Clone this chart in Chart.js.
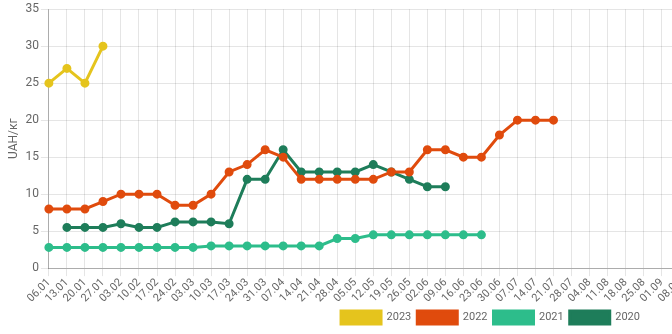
<!DOCTYPE html>
<html>
<head>
<meta charset="utf-8">
<script src="https://cdn.jsdelivr.net/npm/chart.js@4"></script>
<style>
    html, body { margin: 0; padding: 0; background: #ffffff; overflow: hidden; }
    #wrap { position: relative; width: 976px; height: 334px; }
</style>
</head>
<body>
<div id="wrap"><canvas id="priceChart"></canvas></div>
<script>
// Weekly labels (the source chart is wider than the visible window)
const weeks = [
    '06.01', '13.01', '20.01', '27.01', '03.02', '10.02', '17.02', '24.02',
    '03.03', '10.03', '17.03', '24.03', '31.03', '07.04', '14.04', '21.04',
    '28.04', '05.05', '12.05', '19.05', '26.05', '02.06', '09.06', '16.06',
    '23.06', '30.06', '07.07', '14.07', '21.07', '28.07', '04.08', '11.08',
    '18.08', '25.08', '01.09', '08.09', '15.09', '22.09', '29.09', '06.10',
    '13.10', '20.10', '27.10', '03.11', '10.11', '17.11', '24.11', '01.12',
    '08.12', '15.12', '22.12', '29.12'
];

const years = ['2023', '2022', '2021', '2020'];

const prices2023 = [25, 27, 25, 30];
const prices2022 = [8, 8, 8, 9, 10, 10, 10, 8.5, 8.5, 10, 13, 14, 16, 15, 12, 12,
    12, 12, 12, 13, 13, 16, 16, 15, 15, 18, 20, 20, 20];
const prices2021 = [2.8, 2.8, 2.8, 2.8, 2.8, 2.8, 2.8, 2.8, 2.8, 3, 3, 3, 3, 3, 3, 3,
    4, 4, 4.5, 4.5, 4.5, 4.5, 4.5, 4.5, 4.5];
const prices2020 = [null, 5.5, 5.5, 5.5, 6, 5.5, 5.5, 6.25, 6.25, 6.25, 6, 12, 12, 16, 13, 13,
    13, 13, 14, 13, 12, 11, 11];

const yTicks = [0, 5, 10, 15, 20, 25, 30, 35];

const colors = ['#e5c41d', '#e04b0d', '#2dbd8b', '#1e7d5a'];
const series = [prices2023, prices2022, prices2021, prices2020];

const fontFamily = 'Roboto, "Noto Sans", sans-serif';

const ctx = document.getElementById('priceChart');
new Chart(ctx, {
    type: 'line',
    data: {
        labels: weeks,
        datasets: series.map((values, i) => ({
            label: years[i],
            data: values,
            borderColor: colors[i],
            backgroundColor: colors[i],
            borderWidth: 3,
            pointRadius: 3,
            pointHoverRadius: 4,
            pointBackgroundColor: colors[i],
            pointBorderColor: colors[i],
            tension: 0,
            fill: false,
            spanGaps: false
        }))
    },
    options: {
        responsive: true,
        maintainAspectRatio: false,
        animation: false,
        layout: { padding: { top: 2, right: 0, bottom: 0, left: 5 } },
        plugins: {
            legend: {
                position: 'bottom',
                labels: {
                    boxWidth: 40,
                    boxHeight: 13,
                    padding: 6,
                    color: '#666666',
                    font: { family: fontFamily, size: 11 }
                }
            },
            tooltip: { enabled: false }
        },
        scales: {
            x: {
                // keep the plot running almost to the right edge
                afterFit: scale => { scale.paddingRight = 8; },
                ticks: {
                    autoSkip: false,
                    maxRotation: 45,
                    minRotation: 45,
                    color: '#666666',
                    padding: 0,
                    font: { family: fontFamily, size: 11 }
                },
                grid: { color: 'rgba(0, 0, 0, 0.1)' },
                border: { color: 'rgba(0, 0, 0, 0.25)' }
            },
            y: {
                min: 0,
                max: 35,
                afterBuildTicks: axis => {
                    axis.ticks = yTicks.map(v => ({ value: v }));
                },
                ticks: {
                    color: '#666666',
                    padding: 2,
                    font: { family: fontFamily, size: 12 }
                },
                grid: { color: 'rgba(0, 0, 0, 0.1)' },
                border: { color: 'rgba(0, 0, 0, 0.25)' },
                title: {
                    display: true,
                    text: 'UAH/кг',
                    color: '#666666',
                    padding: 2,
                    font: { family: fontFamily, size: 12 }
                }
            }
        }
    }
});
</script>
</body>
</html>
